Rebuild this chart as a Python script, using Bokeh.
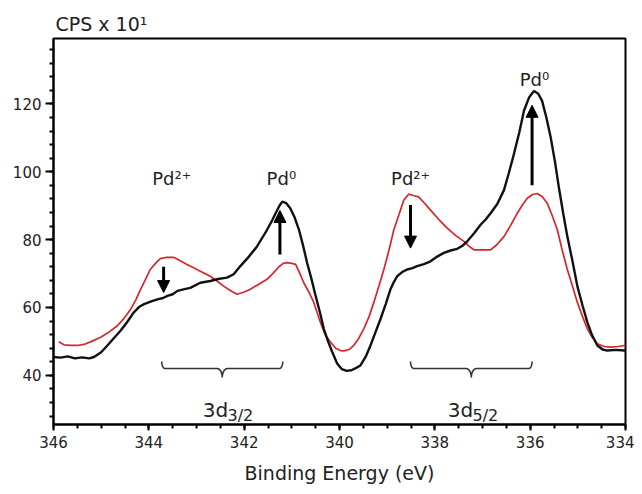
import numpy as np
from bokeh.plotting import figure
from bokeh.models import Range1d, SingleIntervalTicker, Arrow, NormalHead, Title
from bokeh.core.properties import value
from bokeh.embed import file_html
from bokeh.resources import INLINE

# ---------------- data ----------------
black_x = [346.00, 345.85, 345.70, 345.55, 345.40, 345.25, 345.15, 345.00, 344.87, 344.73,
           344.59, 344.45, 344.32, 344.20, 344.10, 343.95, 343.82, 343.70, 343.61, 343.50,
           343.40, 343.25, 343.13, 342.92, 342.71, 342.55, 342.36, 342.22, 342.08, 341.90,
           341.73, 341.60, 341.52, 341.42, 341.34, 341.26, 341.20, 341.12, 341.03, 340.94,
           340.85, 340.76, 340.68, 340.59, 340.50, 340.41, 340.33, 340.24, 340.15, 340.05,
           339.95, 339.85, 339.75, 339.65, 339.56, 339.45, 339.35, 339.25, 339.14, 339.03,
           338.93, 338.86, 338.79, 338.68, 338.58, 338.47, 338.37, 338.23, 338.09, 337.95,
           337.81, 337.67, 337.53, 337.42, 337.32, 337.18, 337.04, 336.93, 336.83, 336.69,
           336.55, 336.45, 336.34, 336.23, 336.13, 336.02, 335.92, 335.83, 335.75, 335.66,
           335.57, 335.48, 335.40, 335.31, 335.22, 335.11, 335.01, 334.90, 334.80, 334.70,
           334.59, 334.48, 334.38, 334.20, 334.03, 334.00]
black_y = [45.4, 45.2, 45.6, 45.0, 45.3, 45.0, 45.4, 46.8, 48.8, 51.0,
           53.2, 55.8, 58.5, 60.2, 61.0, 61.8, 62.4, 62.8, 63.4, 63.9,
           64.9, 65.4, 65.8, 67.3, 67.8, 68.4, 68.8, 69.8, 72.2, 75.0,
           78.0, 81.0, 82.9, 85.5, 87.8, 90.0, 91.2, 90.8, 89.2, 86.5,
           82.9, 78.0, 73.2, 68.5, 63.4, 58.5, 53.7, 50.0, 46.8, 43.5,
           41.8, 41.3, 41.5, 42.2, 42.9, 45.5, 48.8, 52.5, 56.6, 61.0,
           65.4, 67.5, 69.2, 70.5, 71.2, 71.6, 72.2, 72.8, 73.6, 75.0,
           76.1, 76.8, 77.3, 78.2, 79.5, 81.8, 84.4, 86.0, 87.8, 90.5,
           94.6, 99.5, 105.3, 111.5, 118.0, 122.0, 123.8, 123.0, 120.9, 116.0,
           110.2, 103.0, 95.6, 88.0, 80.9, 73.5, 66.3, 60.5, 55.6, 51.8,
           48.8, 47.6, 47.3, 47.5, 47.3, 47.4]

red_x = [345.89, 345.78, 345.64, 345.50, 345.36, 345.20, 345.01, 344.85, 344.66, 344.52,
         344.38, 344.27, 344.17, 344.07, 343.97, 343.86, 343.76, 343.62, 343.48, 343.34,
         343.20, 343.06, 342.92, 342.71, 342.57, 342.43, 342.29, 342.15, 342.01, 341.87,
         341.70, 341.52, 341.40, 341.27, 341.18, 341.10, 341.00, 340.92, 340.83, 340.75,
         340.64, 340.54, 340.47, 340.40, 340.30, 340.19, 340.08, 339.98, 339.91, 339.80,
         339.70, 339.60, 339.49, 339.38, 339.28, 339.17, 339.07, 338.96, 338.86, 338.75,
         338.65, 338.55, 338.45, 338.34, 338.22, 338.09, 337.92, 337.74, 337.56, 337.39,
         337.28, 337.18, 337.04, 336.90, 336.83, 336.70, 336.55, 336.41, 336.27, 336.16,
         336.06, 335.95, 335.85, 335.75, 335.64, 335.54, 335.43, 335.33, 335.22, 335.11,
         335.01, 334.90, 334.80, 334.70, 334.59, 334.45, 334.31, 334.15, 334.03, 334.00]
red_y = [49.9, 49.0, 48.8, 48.8, 49.1, 50.0, 51.2, 52.6, 54.6, 56.8,
         59.5, 62.3, 65.4, 68.3, 71.2, 73.0, 74.4, 74.8, 74.8, 73.8,
         72.7, 71.7, 70.7, 69.2, 67.8, 66.3, 65.0, 63.9, 64.5, 65.4,
         66.8, 68.3, 70.0, 72.0, 73.0, 73.2, 73.0, 72.7, 70.0, 67.3,
         64.5, 61.5, 58.5, 55.6, 52.0, 49.8, 48.0, 47.3, 47.2, 47.6,
         48.8, 50.8, 53.7, 57.3, 61.5, 66.5, 71.2, 77.0, 82.9, 87.5,
         91.7, 93.4, 93.0, 92.6, 90.8, 88.7, 86.0, 83.4, 81.2, 79.5,
         78.0, 77.0, 77.0, 77.0, 77.0, 78.5, 80.9, 84.2, 87.8, 90.3,
         92.2, 93.3, 93.6, 92.7, 90.7, 87.2, 82.9, 77.0, 71.2, 66.2,
         61.5, 57.3, 53.7, 51.2, 49.3, 48.5, 48.3, 48.5, 48.8, 48.8]

# peak labels
peak_labels = ["Pd\u00b2\u207a", "Pd\u2070", "Pd\u00b2\u207a", "Pd\u2070"]
peak_label_x = [343.52, 341.22, 338.51, 335.91]
peak_label_y = [98.1, 98.1, 98.1, 127.3]

# arrows (x, y_start, y_end)
arrow_x = [343.69, 341.25, 338.51, 335.96]
arrow_y0 = [72.0, 75.6, 90.2, 96.0]
arrow_y1 = [64.4, 88.6, 77.5, 119.6]

# braces (start, end) in eV
brace_start = [343.73, 338.51]
brace_end = [341.19, 335.96]
brace_top, brace_mid, brace_tip = 44.1, 42.0, 39.4

# orbital labels
orb_main = ["3d", "3d"]
orb_sub = ["3/2", "5/2"]
orb_x = [342.87, 337.73]
orb_sub_x = [342.35, 337.21]
orb_y = [29.8, 29.8]
orb_sub_y = [28.1, 28.1]

x_ticks_major = 2
y_ticks_major = 20

FONT = "DejaVu Sans"
TXT = "#222222"

p = figure(width=634, height=486, output_backend="svg", toolbar_location=None,
           x_range=Range1d(346, 334), y_range=Range1d(25.5, 139.3),
           min_border_left=53, min_border_right=9, min_border_top=38, min_border_bottom=60)
p.grid.visible = False
p.background_fill_color = "white"
p.outline_line_color = "black"
p.outline_line_width = 2
p.outline_line_alpha = 1.0

t = Title(text="CPS x 10\u00b9", align="left", offset=2, standoff=7,
          text_font=FONT, text_font_size="19px", text_font_style="normal", text_color=TXT)
p.add_layout(t, "above")

p.xaxis.ticker = SingleIntervalTicker(interval=x_ticks_major, num_minor_ticks=4)
p.yaxis.ticker = SingleIntervalTicker(interval=y_ticks_major, num_minor_ticks=5)
for ax in (p.xaxis, p.yaxis):
    ax.axis_line_width = 2
    ax.axis_line_color = "black"
    ax.major_tick_line_width = 2
    ax.minor_tick_line_width = 2
    ax.major_tick_line_color = "black"
    ax.minor_tick_line_color = "black"
    ax.major_tick_in = 0
    ax.minor_tick_in = 0
    ax.major_label_text_font = FONT
    ax.major_label_text_font_size = "15px"
    ax.major_label_text_color = TXT
p.xaxis.major_tick_out = 6
p.xaxis.minor_tick_out = 4
p.yaxis.major_tick_out = 8
p.yaxis.minor_tick_out = 4
p.xaxis.major_label_standoff = 5
p.yaxis.major_label_standoff = 4
p.xaxis.axis_label = "Binding Energy (eV)"
p.xaxis.axis_label_text_font = FONT
p.xaxis.axis_label_text_font_size = "19px"
p.xaxis.axis_label_text_font_style = "normal"
p.xaxis.axis_label_text_color = TXT
p.xaxis.axis_label_standoff = 11

# curves
p.line(red_x, red_y, line_color="#d7262b", line_width=1.7)
p.line(black_x, black_y, line_color="#111111", line_width=2.4)

# arrows
for xa, ya0, ya1 in zip(arrow_x, arrow_y0, arrow_y1):
    p.add_layout(Arrow(end=NormalHead(size=12, fill_color="black", line_color="black", line_width=1),
                       x_start=xa, y_start=ya0, x_end=xa, y_end=ya1,
                       line_color="black", line_width=3))

# braces: hook -> flat -> centre cusp -> flat -> hook
th = np.linspace(0, np.pi / 2, 10)
h_end = 0.07      # eV, radius of end hooks
h_mid = 0.11      # eV, radius of centre curves
d_end = brace_top - brace_mid
d_mid = brace_mid - brace_tip
for b0, b1 in zip(brace_start, brace_end):
    xc = (b0 + b1) / 2.0
    xs, ys = [], []
    xs += list(b0 - h_end + h_end * np.cos(th))
    ys += list(brace_top - d_end * np.sin(th))
    xs += list(xc + h_mid - h_mid * np.sin(th))
    ys += list(brace_tip + d_mid * np.cos(th))
    xs += list(xc - h_mid + h_mid * np.cos(th))
    ys += list(brace_tip + d_mid * np.sin(th))
    xs += list(b1 + h_end - h_end * np.sin(th))
    ys += list(brace_top - d_end * np.cos(th))
    p.line(xs, ys, line_color="#333333", line_width=1.6)

# peak labels
p.text(x=peak_label_x, y=peak_label_y, text=peak_labels, text_align="center",
       text_baseline="alphabetic", text_font=value(FONT), text_font_size="18px", text_color=TXT)

# orbital labels
p.text(x=orb_x, y=orb_y, text=orb_main, text_align="left", text_baseline="alphabetic",
       text_font=value(FONT), text_font_size="20px", text_color=TXT)
p.text(x=orb_sub_x, y=orb_sub_y, text=orb_sub, text_align="left", text_baseline="alphabetic",
       text_font=value(FONT), text_font_size="16px", text_color=TXT)

open("out.html", "w").write(file_html(p, INLINE))
